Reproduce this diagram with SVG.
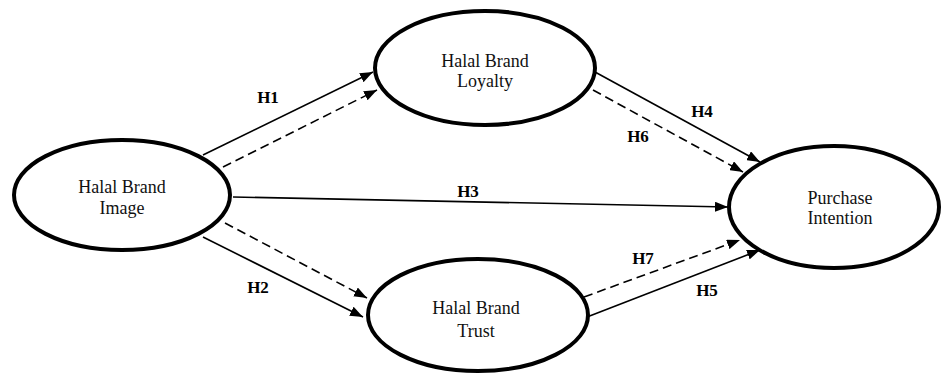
<svg xmlns="http://www.w3.org/2000/svg" width="942" height="376" viewBox="0 0 942 376">
<style>
.node{fill:#fff;stroke:#000;stroke-width:4}
.nt{font-family:"Liberation Serif","Times New Roman",serif;font-size:18px;text-anchor:middle;fill:#111}
.lbl{font-family:"Liberation Serif","Times New Roman",serif;font-size:17px;font-weight:bold;text-anchor:middle;fill:#000}
.c{stroke:#000;stroke-width:1.6;fill:none;marker-end:url(#ah)}
.d{stroke-dasharray:9 5}
</style>
<defs>
<marker id="ah" markerUnits="userSpaceOnUse" markerWidth="14" markerHeight="10" refX="13" refY="5" orient="auto">
<path d="M0,0 L13,5 L0,10 z" fill="#000"/>
</marker>
</defs>
<g id="connectors">
<line class="c" x1="203" y1="155" x2="373" y2="72"/>
<line class="c d" x1="223" y1="167" x2="377" y2="90"/>
<line class="c" x1="595" y1="72" x2="760" y2="162"/>
<line class="c d" x1="593" y1="90" x2="743" y2="172"/>
<line class="c" x1="233" y1="197" x2="728" y2="207"/>
<line class="c d" x1="225" y1="223" x2="367" y2="298"/>
<line class="c" x1="203" y1="237" x2="363" y2="317"/>
<line class="c d" x1="584" y1="297" x2="740" y2="240"/>
<line class="c" x1="587" y1="317" x2="760" y2="250"/>
<text class="lbl" x="268" y="103">H1</text>
<text class="lbl" x="702" y="117">H4</text>
<text class="lbl" x="638" y="142">H6</text>
<text class="lbl" x="468" y="197">H3</text>
<text class="lbl" x="258" y="293">H2</text>
<text class="lbl" x="643" y="264">H7</text>
<text class="lbl" x="707" y="296">H5</text>
</g>
<g id="image">
<ellipse class="node" cx="122" cy="195" rx="108" ry="55"/>
<text class="nt" x="122" y="193">Halal Brand</text>
<text class="nt" x="122" y="214">Image</text>
</g>
<g id="loyalty">
<ellipse class="node" cx="485" cy="68" rx="110" ry="57"/>
<text class="nt" x="485" y="67">Halal Brand</text>
<text class="nt" x="485" y="87">Loyalty</text>
</g>
<g id="trust">
<ellipse class="node" cx="478" cy="315" rx="110" ry="56"/>
<text class="nt" x="476" y="314">Halal Brand</text>
<text class="nt" x="476" y="337">Trust</text>
</g>
<g id="purchase">
<ellipse class="node" cx="834" cy="207" rx="105" ry="61"/>
<text class="nt" x="840" y="204">Purchase</text>
<text class="nt" x="840" y="224">Intention</text>
</g>
</svg>
